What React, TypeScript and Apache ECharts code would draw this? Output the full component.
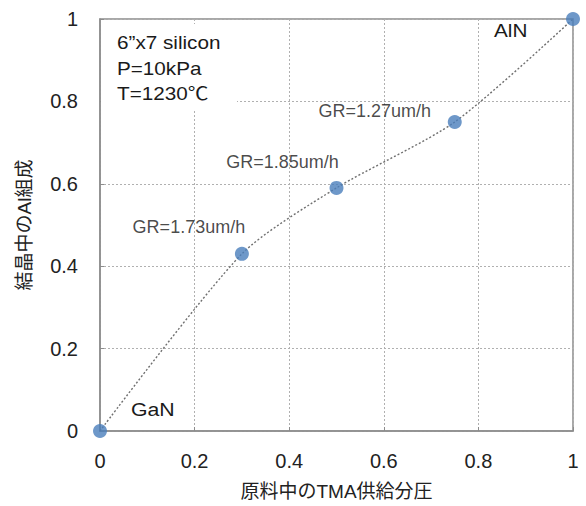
import React, { useEffect, useRef } from "react";
import * as echarts from "echarts";

const tmaSupply = [0, 0.3, 0.5, 0.75, 1];
const alComposition = [0, 0.43, 0.59, 0.75, 1];
const pointLabels = ["", "GR=1.73um/h", "GR=1.85um/h", "GR=1.27um/h", ""];
const labelOffsets: [number, number][] = [[0, 0], [-53, -27], [-54, -26], [-80, -11], [0, 0]];
const conditionLines = ["6\u201dx7 silicon", "P=10kPa", "T=1230\u2103"];
const xTicks = [0, 0.2, 0.4, 0.6, 0.8, 1];
const yTicks = [0, 0.2, 0.4, 0.6, 0.8, 1];

const latin = "'Liberation Sans', Arial, 'Noto Sans CJK JP', sans-serif";
const cjk = "'Liberation Sans', 'Noto Sans CJK JP', sans-serif";

export default function App() {
  const ref = useRef<HTMLDivElement>(null);
  useEffect(() => {
    if (!ref.current) return;
    const chart = echarts.init(ref.current, null, { renderer: "svg" });
    const pts = tmaSupply.map((x, i) => [x, alComposition[i]]);
    const fmt = (v: number) => (xTicks.includes(v) || yTicks.includes(v) ? String(Number(v.toFixed(1))) : "");
    chart.setOption({
      animation: false,
      backgroundColor: "#fff",
      grid: {
        left: 100,
        right: 13,
        top: 19,
        bottom: 72,
        show: true,
        borderColor: "#8c8c8c",
        borderWidth: 1.5,
      },
      xAxis: {
        type: "value",
        min: 0,
        max: 1,
        interval: 0.2,
        name: "原料中のTMA供給分圧",
        nameLocation: "middle",
        nameGap: 51,
        nameTextStyle: { fontSize: 19, color: "#222", fontFamily: cjk },
        axisLine: { lineStyle: { color: "#8c8c8c", width: 1.5 } },
        axisTick: { show: true, inside: true, length: 4, lineStyle: { color: "#8c8c8c" } },
        axisLabel: { fontSize: 20, color: "#222", margin: 20, fontFamily: latin, formatter: fmt },
        splitLine: { show: true, lineStyle: { color: "#b0b0b0", type: [2, 2], width: 1 } },
      },
      yAxis: {
        type: "value",
        min: 0,
        max: 1,
        interval: 0.2,
        name: "結晶中のAl組成",
        nameLocation: "middle",
        nameGap: 66,
        nameTextStyle: { fontSize: 19, color: "#222", fontFamily: cjk },
        axisLine: { show: true, lineStyle: { color: "#8c8c8c", width: 1.5 } },
        axisTick: { show: true, inside: true, length: 4, lineStyle: { color: "#8c8c8c" } },
        axisLabel: { fontSize: 20, color: "#222", margin: 22, fontFamily: latin, formatter: fmt },
        splitLine: { show: true, lineStyle: { color: "#b0b0b0", type: [2, 2], width: 1 } },
      },
      series: [
        {
          type: "line",
          data: pts,
          smooth: 0.25,
          showSymbol: false,
          lineStyle: { color: "#707070", width: 1.4, type: [2, 2] },
          z: 2,
        },
        {
          type: "scatter",
          data: pts.map((p, i) => ({
            value: p,
            label: {
              show: pointLabels[i] !== "",
              formatter: pointLabels[i],
              position: "inside",
              offset: labelOffsets[i],
              fontSize: 18,
              color: "#1a1a1a",
              fontFamily: latin,
            },
          })),
          symbolSize: 14,
          itemStyle: { color: "#4a7ebb" },
          z: 5,
        },
      ],
      graphic: [
        { type: "rect", shape: { x: 101, y: 24, width: 136, height: 86 }, style: { fill: "#fff" }, z: 10 },
        ...conditionLines.map((t, i) => ({
          type: "text",
          x: 117,
          y: 43 + i * 25.5,
          scaleX: 1.15,
          style: { text: t, fill: "#1a1a1a", font: `18px ${latin}`, textVerticalAlign: "middle" },
          z: 11,
        })),
        { type: "text", x: 494, y: 31, scaleX: 1.15, style: { text: "AlN", font: `18px ${latin}`, fill: "#1a1a1a", textVerticalAlign: "middle" }, z: 11 },
        { type: "text", x: 131, y: 409, scaleX: 1.12, style: { text: "GaN", font: `19px ${latin}`, fill: "#1a1a1a", textVerticalAlign: "middle" }, z: 11 },
      ],
    });
    return () => chart.dispose();
  }, []);
  return <div ref={ref} style={{ position: "fixed", left: 0, top: 0, width: 586, height: 506 }} />;
}
